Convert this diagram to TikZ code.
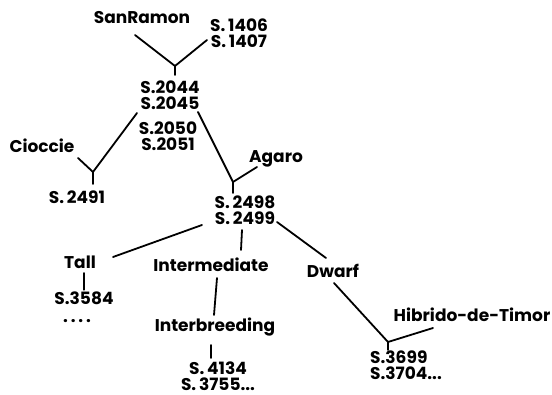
\documentclass[tikz,border=0pt]{standalone}
\usepackage{fontspec}
\setmainfont{Poppins}
\begin{document}
\begin{tikzpicture}[x=1pt,y=-1pt,
  lbl/.style={inner sep=0pt,font=\bfseries\fontsize{17}{16.5}\selectfont,align=center},
  lnk/.style={line width=1.8pt,line cap=round}]
\useasboundingbox (0,0) rectangle (552,395);
% text labels
\node[lbl] (sr)    at (142,18)  {SanRamon};
\node[lbl] (s1406) at (239,33)  {S.\,1406\\S.\,1407};
\node[lbl] (s2044) at (170,95)  {S.2044\\S.2045};
\node[lbl] (s2050) at (168,136) {S.2050\\S.2051};
\node[lbl] (cio)   at (42,146)  {Cioccie};
\node[lbl] (s2491) at (77,197)  {S.\,2491};
\node[lbl] (aga)   at (276,159) {Agaro};
\node[lbl] (s2498) at (245,210) {S.\,2498\\S.\,2499};
\node[lbl] (tall)  at (80,262)  {Tall};
\node[lbl,text height=12pt,text depth=0pt,anchor=base] (s3584) at (84,305) {S.3584};
\node[lbl,text height=3pt,text depth=0pt,anchor=base] (dots) at (77,323) {.\,.\,.\,.};
\node[lbl] (inter) at (211,265) {Intermediate};
\node[lbl] (breed) at (215,327) {Interbreeding};
\node[lbl] (s4134) at (218,376) {S.\,4134\\S.\,3755...};
\node[lbl] (dwarf) at (333,271) {Dwarf};
\node[lbl] (hib)   at (472,315) {Hibrido-de-Timor};
\node[lbl,align=left] (s3699) at (406,365) {S.3699\\S.3704...};
% junction points
\coordinate (j1) at (175,66);
\coordinate (j2) at (93,172);
\coordinate (j3) at (233,182);
\coordinate (j4) at (388,342);
% connectors
\draw[lnk] ([shift={(-7,17)}]sr.center) -- (j1);
\draw[lnk] ([shift={(-32,7)}]s1406.center) -- (j1);
\draw[lnk] (j1) -- ([shift={(5,-20)}]s2044.center);
\draw[lnk] ([shift={(-33,18)}]s2044.center) -- (j2);
\draw[lnk] ([shift={(36,12)}]cio.center) -- (j2);
\draw[lnk] (j2) -- ([shift={(16,-13)}]s2491.center);
\draw[lnk] ([shift={(28,17)}]s2044.center) -- (j3);
\draw[lnk] ([shift={(-19,8)}]aga.center) -- (j3);
\draw[lnk] (j3) -- ([shift={(-12,-17)}]s2498.center);
\draw[lnk] ([shift={(-43,15)}]s2498.center) -- ([shift={(33,-5)}]tall.center);
\draw[lnk] ([shift={(-3,20)}]s2498.center) -- ([shift={(30,-15)}]inter.center);
\draw[lnk] ([shift={(32,12)}]s2498.center) -- ([shift={(-7,-13)}]dwarf.center);
\draw[lnk] ([shift={(4,11)}]tall.center) -- ([shift={(0,-3)}]s3584.north);
\draw[lnk] ([shift={(6,13)}]inter.center) -- ([shift={(-1,-12)}]breed.center);
\draw[lnk] ([shift={(-4,18)}]breed.center) -- ([shift={(-7,-18)}]s4134.center);
\draw[lnk] ([shift={(1,12)}]dwarf.center) -- (j4);
\draw[lnk] ([shift={(-39,13)}]hib.center) -- (j4);
\draw[lnk] (j4) -- ([shift={(-18,-15)}]s3699.center);
\end{tikzpicture}
\end{document}
